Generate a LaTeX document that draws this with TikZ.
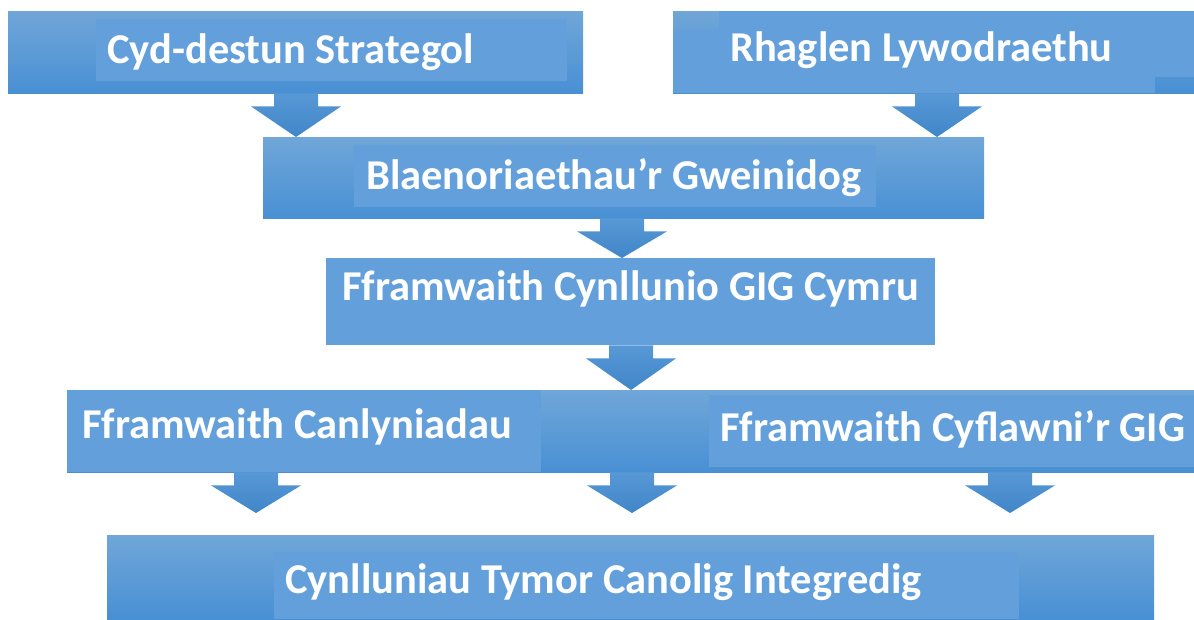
\documentclass[tikz,border=0pt]{standalone}
\usepackage{fontspec}
\setmainfont{Carlito}
\usetikzlibrary{calc}
\definecolor{flatblue}{RGB}{99,160,219}
\definecolor{gtop}{RGB}{112,166,216}
\definecolor{gbot}{RGB}{72,144,212}
\definecolor{atop}{RGB}{88,152,214}
\definecolor{abot}{RGB}{64,134,200}
\tikzset{
  bar/.style={rectangle, draw=none, top color=gtop, bottom color=gbot, anchor=north west, inner sep=0pt},
  flatbar/.style={rectangle, draw=none, fill=flatblue, anchor=north west, inner sep=0pt},
  inner/.style={fill=flatblue},
  lbl/.style={anchor=base west, inner sep=0pt, text=white, font=\fontsize{42.5pt}{42.5pt}\selectfont\bfseries},
  arrowsty/.style={top color=atop, bottom color=abot, draw=none}
}
\newcommand\blockarr[3]{%
  \path[arrowsty] ($(#2 |- #1.south)+(-22,0)$) -- ($(#2 |- #1.south)+(22,0)$)
    -- ($(#2 |- #1.south)+(22,13)$) -- ($(#2 |- #1.south)+(45,13)$)
    -- (#2 |- #3)
    -- ($(#2 |- #1.south)+(-45,13)$) -- ($(#2 |- #1.south)+(-22,13)$) -- cycle;}
\begin{document}
\begin{tikzpicture}[x=1pt,y=-1pt]
\useasboundingbox (0,0) rectangle (1194,619);
\fill[white] (0,0) rectangle (1194,619);
% boxes
\node[bar, minimum width=575pt, minimum height=82pt] (b1) at (8,11) {};
\node[bar, minimum width=521pt, minimum height=82pt] (b2) at (673,11) {};
\node[bar, minimum width=721pt, minimum height=81pt] (b3) at (263,137) {};
\node[flatbar, minimum width=609pt, minimum height=87pt] (b4) at (326,258) {};
\node[bar, minimum width=1127pt, minimum height=82pt] (b5) at (67,390) {};
\node[bar, minimum width=1047pt, minimum height=84pt] (b6) at (107,535) {};
% flat inner text areas
\fill[inner] (96,19) rectangle (567,81);
\fill[inner] (673,30) rectangle (1155,93);
\fill[inner] (719,11) rectangle (1194,77);
\fill[inner] (354,145) rectangle (876,207);
\fill[inner] (67,390) rectangle (541,472);
\fill[inner] (709,395) rectangle (1194,467);
\fill[inner] (274,552) rectangle (1019,619);
% labels
\node[lbl] (t1) at (107,63) {Cyd-destun Strategol};
\node[lbl] (t2) at (730,61) {Rhaglen Lywodraethu};
\node[lbl] (t3) at (366,189) {Blaenoriaethau’r Gweinidog};
\node[lbl] (t4) at (342,300) {Fframwaith Cynllunio GIG Cymru};
\node[lbl] (t5) at (82,438) {Fframwaith Canlyniadau};
\node[lbl] (t6) at (720,441) {Fframwaith Cyflawni’r GIG};
\node[lbl] (t7) at (285,593) {Cynlluniau Tymor Canolig Integredig};
% arrow positions
\coordinate (ax1) at (296,0);
\coordinate (ax2) at (937,0);
\coordinate (ax3) at (622,0);
\coordinate (ax4) at (631,0);
\coordinate (ax5) at (256,0);
\coordinate (ax6) at (632,0);
\coordinate (ax7) at (1010,0);
\coordinate (tip5) at (0,513);
% arrows
\blockarr{b1}{ax1}{b3.north}
\blockarr{b2}{ax2}{b3.north}
\blockarr{b3}{ax3}{b4.north}
\blockarr{b4}{ax4}{b5.north}
\blockarr{b5}{ax5}{tip5}
\blockarr{b5}{ax6}{tip5}
\blockarr{b5}{ax7}{tip5}
\end{tikzpicture}
\end{document}
